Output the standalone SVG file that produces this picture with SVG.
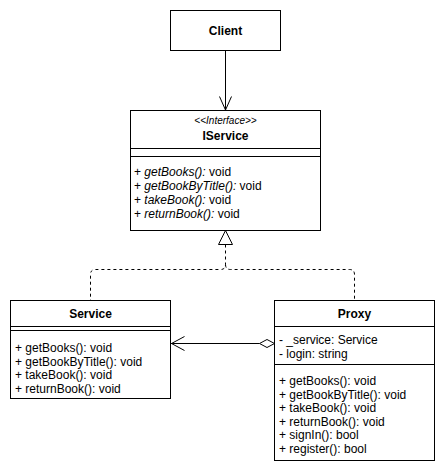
<svg xmlns="http://www.w3.org/2000/svg" width="445" height="474" viewBox="0 0 445 474">
<style>
.box{fill:#fff;stroke:#000;stroke-width:1}
.ln{stroke:#000;stroke-width:1;fill:none}
.dash{stroke:#000;stroke-width:1;fill:none;stroke-dasharray:3,3}
text{font-family:"Liberation Sans",Arial,sans-serif;font-size:12px;fill:#000}
.t{font-weight:bold;text-anchor:middle}
.st{font-size:10px;font-style:italic;text-anchor:middle}
.i{font-style:italic}
</style>
<rect width="445" height="474" fill="#fff"/>
<g id="connectors">
<line class="ln" x1="225.5" y1="50.5" x2="225.5" y2="110"/>
<polyline class="ln" points="219.5,96.5 225.5,110 231.5,96.5"/>
<path class="dash" d="M225.5,244.5 V264.5 Q225.5,269.5 220.5,269.5 H95.5 Q90.5,269.5 90.5,274.5 V300.5"/>
<path class="dash" d="M225.5,264.5 Q225.5,269.5 230.5,269.5 H349.5 Q354.5,269.5 354.5,274.5 V300.5"/>
<polygon class="ln" fill="#fff" style="fill:#fff" points="225.5,230.5 218.5,244.5 232.5,244.5"/>
<line class="ln" x1="171" y1="343.5" x2="259.5" y2="343.5"/>
<polyline class="ln" points="184.5,336.5 171.5,343.5 184.5,350.5"/>
<polygon class="ln" style="fill:#fff" points="274.5,343.5 267,339.5 259.5,343.5 267,347.5"/>
</g>
<g id="client">
<rect class="box" x="170.5" y="10.5" width="110" height="40"/>
<text class="t" x="225.5" y="35">Client</text>
</g>
<g id="iservice">
<rect class="box" x="130.5" y="110.5" width="190" height="120"/>
<text class="st" x="225.5" y="124">&lt;&lt;Interface&gt;&gt;</text>
<text class="t" x="225.5" y="140">IService</text>
<line class="ln" x1="130.5" y1="148.5" x2="320.5" y2="148.5"/>
<line class="ln" x1="130.5" y1="156.5" x2="320.5" y2="156.5"/>
<text x="134" y="176">+ <tspan class="i">getBooks():</tspan> void</text>
<text x="134" y="190">+ <tspan class="i">getBookByTitle():</tspan> void</text>
<text x="134" y="204">+ <tspan class="i">takeBook():</tspan> void</text>
<text x="134" y="218">+ <tspan class="i">returnBook():</tspan> void</text>
</g>
<g id="service">
<rect class="box" x="10.5" y="300.5" width="160" height="98"/>
<text class="t" x="90.5" y="318">Service</text>
<line class="ln" x1="10.5" y1="326.5" x2="170.5" y2="326.5"/>
<line class="ln" x1="10.5" y1="330.5" x2="170.5" y2="330.5"/>
<text x="15" y="352">+ getBooks(): void</text>
<text x="15" y="365.5">+ getBookByTitle(): void</text>
<text x="15" y="379">+ takeBook(): void</text>
<text x="15" y="392.5">+ returnBook(): void</text>
</g>
<g id="proxy">
<rect class="box" x="274.5" y="300.5" width="160" height="160"/>
<text class="t" x="354.5" y="318">Proxy</text>
<line class="ln" x1="274.5" y1="326.5" x2="434.5" y2="326.5"/>
<text x="279" y="344">- _service: Service</text>
<text x="279" y="357.5">- login: string</text>
<line class="ln" x1="274.5" y1="364.5" x2="434.5" y2="364.5"/>
<text x="279" y="385">+ getBooks(): void</text>
<text x="279" y="398.5">+ getBookByTitle(): void</text>
<text x="279" y="412">+ takeBook(): void</text>
<text x="279" y="425.5">+ returnBook(): void</text>
<text x="279" y="439">+ signIn(): bool</text>
<text x="279" y="452.5">+ register(): bool</text>
</g>
</svg>
